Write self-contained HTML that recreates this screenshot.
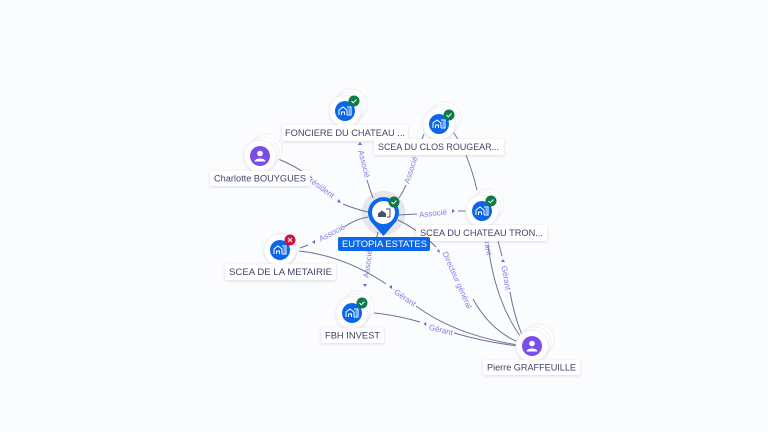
<!DOCTYPE html>
<html><head><meta charset="utf-8"><style>
html,body{margin:0;padding:0;background:#fbfcfe}
svg{display:block}
.e{fill:none;stroke:#6f7391;stroke-width:1}
.l{font:8px "Liberation Sans",sans-serif;fill:#7f7ee8;text-anchor:middle;dominant-baseline:central}
.t{font:9.5px "Liberation Sans",sans-serif;fill:#3f4468;dominant-baseline:central}
.a{fill:#6c63e0}
.box{fill:#fff;filter:url(#s)}
.w{fill:#fff;stroke:#eff0f4;stroke-width:1}
.ck{fill:none;stroke:#fff;stroke-width:1}
.ic{fill:none;stroke:#fff;stroke-width:1}
</style></head><body>
<svg width="768" height="432" viewBox="0 0 768 432" xmlns="http://www.w3.org/2000/svg">
<defs>
<filter id="s" x="-20%" y="-50%" width="140%" height="200%"><feDropShadow dx="0" dy="1" stdDeviation="1.5" flood-color="#8a8fa8" flood-opacity=".3"/></filter>
<filter id="w" x="-30%" y="-30%" width="160%" height="160%"><feDropShadow dx="0" dy="1" stdDeviation="1" flood-color="#8a8fa8" flood-opacity=".22"/></filter>
<g id="stack3"><circle cx="6" cy="-6" r="16" class="w"/><circle cx="3" cy="-3" r="16" class="w"/><circle r="16" class="w" filter="url(#w)"/></g>
<g id="co"><circle r="10" fill="#0b67ea"/><path class="ic" d="M-6 4V-1L-2 -4L2 -1V4M-3.500 4V1H-.5V4M2 -4H6V4H2M3.500 -2H5M3.500 0H5M3.500 2H5" stroke-width=".9"/></g>
<g id="pe"><circle r="10" fill="#7b4dea"/><circle cy="-2.500" r="2.800" fill="#fff"/><path d="M-5.500 5.500C-5 1.500 5 1.500 5.500 5.500Z" fill="#fff"/></g>
<g id="ok"><circle r="5.500" fill="#0d7a48"/><path class="ck" d="M-2.500 0L-.7 1.800L2.500 -1.500"/></g>
<g id="ko"><circle r="5.500" fill="#d1103f"/><path class="ck" d="M-2 -2L2 2M2 -2L-2 2"/></g>
</defs>
<rect width="768" height="432" fill="#fbfcfe"/>
<circle cx="383.500" cy="213" r="22" fill="#e6e7ea"/>

<!-- edges -->
<path class="e" d="M276 158Q296 166 312 178"/>
<path class="e" d="M343 204Q355 209 368 212"/>
<path class="e" d="M355 125L357 133"/>
<path class="e" d="M367 180Q370 190 373 198"/>
<path class="e" d="M424 134L422 139"/>
<path class="e" d="M406 185Q403 192 399 198"/>
<path class="e" d="M398 215L417 214"/>
<path class="e" d="M458 211L466 211"/>
<path class="e" d="M368 217Q356 219 344 227"/>
<path class="e" d="M300 248L308 245"/>
<path class="e" d="M378 232L375 244"/>
<path class="e" d="M299 251Q345 256 386 284"/>
<path class="e" d="M416 306Q455 335 518 345"/>
<path class="e" d="M374 313Q395 315 420 322"/>
<path class="e" d="M454 333Q485 342 518 346"/>
<path class="e" d="M473 299Q490 330 518 342"/>
<path class="e" d="M398 220Q420 231 436 247"/>
<path class="e" d="M453 132Q468 152 477 190"/>
<path class="e" d="M488 245Q495 300 520 336"/>
<path class="e" d="M498 241L502 256"/>
<path class="e" d="M510 292Q514 315 522 335"/>

<!-- edge labels -->
<text class="l" transform="translate(322 188) rotate(36)">résident</text>
<text class="l" transform="translate(364 164) rotate(76)">Associé</text>
<text class="l" transform="translate(411 170) rotate(-72)">Associé</text>
<text class="l" transform="translate(433 213.500) rotate(-6)">Associé</text>
<text class="l" transform="translate(332 233) rotate(-28)">Associé</text>
<text class="l" transform="translate(368 264) rotate(-82)">Associé</text>
<text class="l" transform="translate(405 298) rotate(34)">Gérant</text>
<text class="l" transform="translate(441 330) rotate(14)">Gérant</text>
<text class="l" transform="translate(457 280) rotate(66)">Directeur général</text>
<text class="l" transform="translate(506 278) rotate(80)">Gérant</text>
<text class="l" transform="translate(487 243) rotate(80)">Gérant</text>

<!-- arrowheads -->
<path class="a" d="M360 141.500L362 145H358Z"/>
<path class="a" d="M339 199L341 203L337 202Z"/>
<path class="a" d="M455 211L452 209V213Z"/>
<path class="a" d="M315 240L315 244L312 242Z"/>
<path class="a" d="M365 287L363 284H367Z"/>
<path class="a" d="M392 285L392 289L389 287Z"/>
<path class="a" d="M426 322L426.500 326L423.500 324Z"/>
<path class="a" d="M439 249L440 253L437 251Z"/>
<path class="a" d="M503 259L505 262H501Z"/>

<!-- nodes -->
<use href="#stack3" x="345" y="111"/><use href="#co" x="345" y="111"/><use href="#ok" x="354" y="101"/>
<use href="#stack3" x="260" y="156"/><use href="#pe" x="260" y="156"/>
<use href="#stack3" x="439" y="124"/><use href="#co" x="439" y="124"/><use href="#ok" x="449" y="115"/>
<use href="#stack3" x="482" y="211"/><use href="#co" x="482" y="211"/><use href="#ok" x="491" y="201"/>
<circle cx="282" cy="249" r="16" class="w"/><circle cx="280" cy="250" r="16" class="w" filter="url(#w)"/><use href="#co" x="280" y="250"/><use href="#ko" x="290" y="240"/>
<use href="#stack3" x="352" y="313"/><use href="#co" x="352" y="313"/><use href="#ok" x="362" y="303"/>
<use href="#stack3" x="532" y="346"/><use href="#pe" x="532" y="346"/>

<!-- center -->
<path d="M383.500 236L373 224A15.500 15.500 0 1 1 394 224Z" fill="#0b67ea"/>
<circle cx="383.500" cy="212.500" r="11.500" fill="#fff"/>
<path d="M378 217V213.500L382 210.500L386 213.500V217Z" fill="#4a4f6c"/>
<path d="M386 209H390V217H387" fill="none" stroke="#4a4f6c" stroke-width="1"/>
<use href="#ok" x="394" y="202"/>

<!-- labels -->
<rect class="box" x="282" y="125" width="126" height="16" rx="2"/>
<text class="t" x="285" y="133.500" textLength="120" lengthAdjust="spacingAndGlyphs">FONCIERE DU CHATEAU ...</text>
<rect class="box" x="210" y="171" width="100" height="15" rx="2"/>
<text class="t" x="214" y="179" textLength="92" lengthAdjust="spacingAndGlyphs">Charlotte BOUYGUES</text>
<rect class="box" x="374" y="139" width="130" height="16" rx="2"/>
<text class="t" x="378" y="147.500" textLength="121" lengthAdjust="spacingAndGlyphs">SCEA DU CLOS ROUGEAR...</text>
<rect class="box" x="416" y="225" width="131" height="16" rx="2"/>
<text class="t" x="420" y="233.500" textLength="123" lengthAdjust="spacingAndGlyphs">SCEA DU CHATEAU TRON...</text>
<rect x="338" y="237" width="92" height="14" rx="2" fill="#0b67ea"/>
<text class="t" x="342" y="244.500" textLength="85" lengthAdjust="spacingAndGlyphs" style="fill:#fff">EUTOPIA ESTATES</text>
<rect class="box" x="225" y="264" width="111" height="16" rx="2"/>
<text class="t" x="229" y="272.500" textLength="103" lengthAdjust="spacingAndGlyphs">SCEA DE LA METAIRIE</text>
<rect class="box" x="321" y="328" width="63" height="15" rx="2"/>
<text class="t" x="325" y="336" textLength="55" lengthAdjust="spacingAndGlyphs">FBH INVEST</text>
<rect class="box" x="483" y="360" width="97" height="15" rx="2"/>
<text class="t" x="487" y="368" textLength="89" lengthAdjust="spacingAndGlyphs">Pierre GRAFFEUILLE</text>
</svg>
</body></html>
